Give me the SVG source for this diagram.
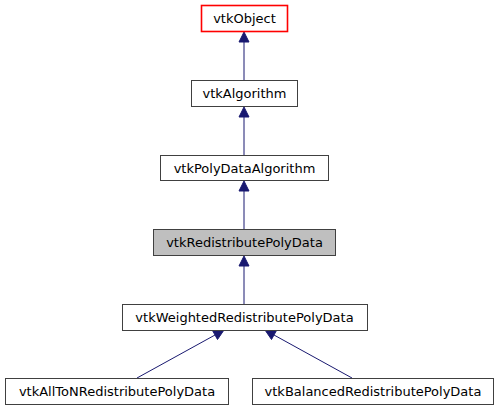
<svg xmlns="http://www.w3.org/2000/svg" width="499" height="411" viewBox="0 0 499 411">
<defs>
<style>
.node{fill:#ffffff;stroke:#404040;stroke-width:1}
.root{fill:#ffffff;stroke:#ff0000;stroke-width:1.6}
.focus{fill:#bfbfbf;stroke:#404040;stroke-width:1}
.lbl{font-family:"DejaVu Sans",sans-serif;font-size:13px;fill:#000000;text-anchor:middle}
.edge{stroke:#191970;stroke-width:1;fill:none}
.head{fill:#191970;stroke:#191970;stroke-width:1}
</style>
</defs>
<rect width="499" height="411" fill="#ffffff"/>
<g id="connectors">
<path class="edge" d="M244,80 V42"/>
<polygon class="head" points="244,32 249,42 239,42"/>
<path class="edge" d="M244,155 V117"/>
<polygon class="head" points="244,107 249,117 239,117"/>
<path class="edge" d="M244,229 V191"/>
<polygon class="head" points="244,181 249,191 239,191"/>
<path class="edge" d="M244,304 V266"/>
<polygon class="head" points="244,256 249,266 239,266"/>
<path class="edge" d="M137,378 L215,335"/>
<polygon class="head" points="224,330 217.5,339.5 212.7,330.8"/>
<path class="edge" d="M352,378 L274,335"/>
<polygon class="head" points="265,330 276.3,330.8 271.5,339.5"/>
</g>
<g id="vtkObject">
<rect class="root" x="201.5" y="5.5" width="86" height="26"/>
<text class="lbl" x="244.5" y="23">vtkObject</text>
</g>
<g id="vtkAlgorithm">
<rect class="node" x="191.5" y="80.5" width="106" height="26"/>
<text class="lbl" x="244.5" y="98">vtkAlgorithm</text>
</g>
<g id="vtkPolyDataAlgorithm">
<rect class="node" x="160.5" y="155.5" width="168" height="25"/>
<text class="lbl" x="244.5" y="172.5">vtkPolyDataAlgorithm</text>
</g>
<g id="vtkRedistributePolyData">
<rect class="focus" x="153.5" y="229.5" width="182" height="26"/>
<text class="lbl" x="244.5" y="247">vtkRedistributePolyData</text>
</g>
<g id="vtkWeightedRedistributePolyData">
<rect class="node" x="122.5" y="304.5" width="245" height="26"/>
<text class="lbl" x="244.5" y="322">vtkWeightedRedistributePolyData</text>
</g>
<g id="vtkAllToNRedistributePolyData">
<rect class="node" x="5.5" y="378.5" width="223" height="26"/>
<text class="lbl" x="117" y="396">vtkAllToNRedistributePolyData</text>
</g>
<g id="vtkBalancedRedistributePolyData">
<rect class="node" x="252.5" y="378.5" width="241" height="26"/>
<text class="lbl" x="373" y="396">vtkBalancedRedistributePolyData</text>
</g>
</svg>
